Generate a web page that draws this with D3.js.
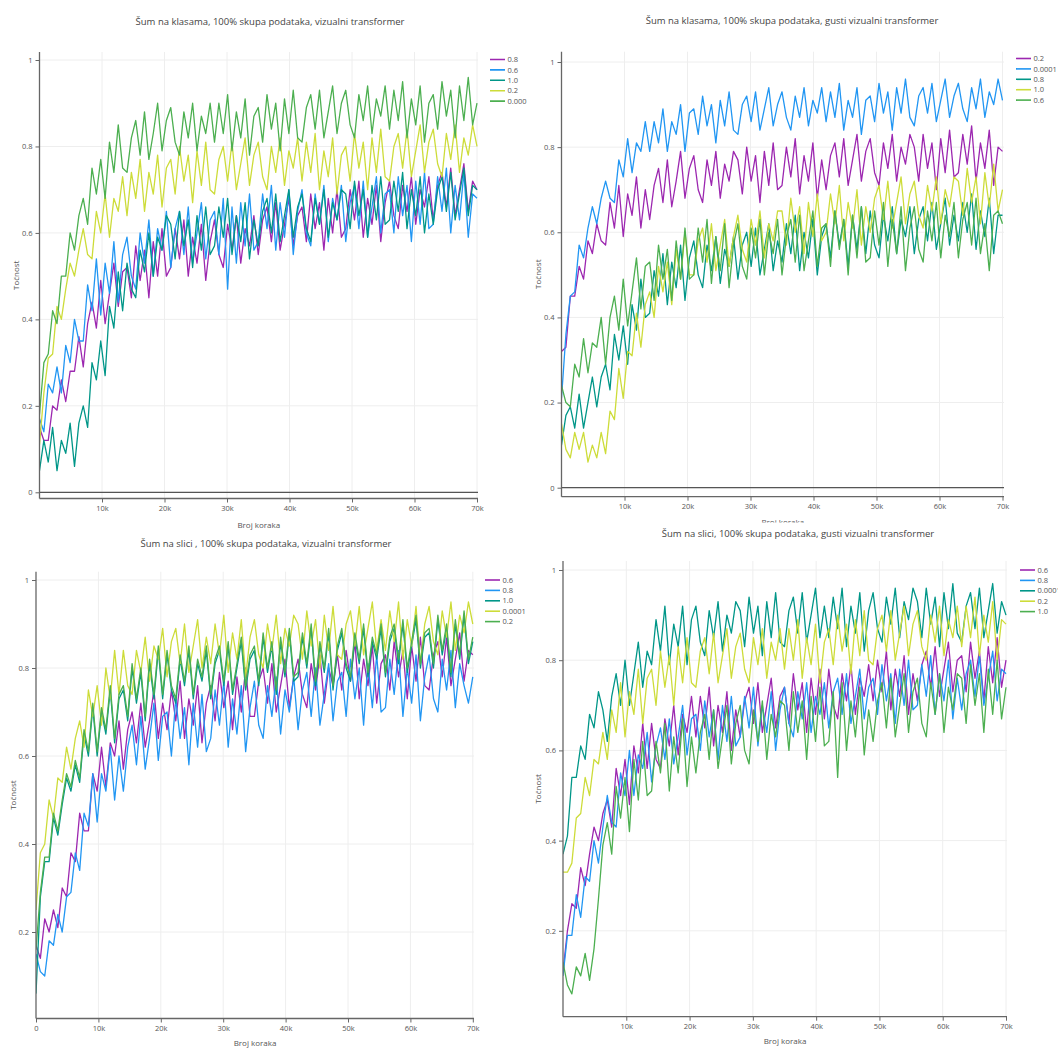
<!DOCTYPE html>
<html><head><meta charset="utf-8">
<script src="https://cdn.jsdelivr.net/npm/d3@7"></script>
<style>body{margin:0;background:#fff}svg text{font-family:"Open Sans",sans-serif}</style>
</head><body><svg id="c" width="1058" height="1048"></svg>
<script>
// ---------------- DATA ----------------
// logged training steps (one point every 700 steps, 0 .. 70k)
const steps = d3.range(0, 70001, 700);
const seriesColors = ["#9C27B0", "#2196F3", "#009688", "#CDDC39", "#4CAF50"];
const xTickValues = [10000, 20000, 30000, 40000, 50000, 60000, 70000];
const yTicksFull = [0, 0.2, 0.4, 0.6, 0.8, 1];
const yTicksNoZero = [0.2, 0.4, 0.6, 0.8, 1];
const xTitle = "Broj koraka";
const yTitle = "Točnost";

// Panel 1: Šum na klasama, vizualni transformer (accuracy in %)
const p1Title = "Šum na klasama, 100% skupa podataka, vizualni transformer";
const p1Labels = ["0.8", "0.6", "1.0", "0.2", "0.0001"];
const p1_noise08 = [15,12,12,20,19,26,21,28,28,36, 29,39,44,38,49,39,46,53,43,51, 52,45,57,49,56,45,58,50,61,50, 52,61,54,63,50,59,53,62,49,58, 63,55,52,62,56,64,53,61,57,64, 55,63,66,58,67,56,62,68,57,64, 66,58,69,61,67,56,68,60,70,59, 61,70,63,72,59,68,62,71,58,67, 72,64,61,71,65,73,62,70,66,73, 63,71,74,66,75,64,70,76,65,72, 70];
const p1_noise06 = [17,14,25,23,29,23,34,30,40,35, 35,48,42,54,41,53,46,58,44,55, 59,50,47,60,53,63,50,61,56,65, 52,61,65,55,66,53,60,67,54,63, 65,55,68,47,66,53,67,57,69,56, 58,69,61,71,56,67,59,70,55,65, 70,60,57,69,62,71,58,68,63,71, 58,67,71,61,72,59,66,73,60,69, 70,60,73,64,71,58,72,62,74,61, 62,73,65,75,60,71,63,74,59,69, 68];
const p1_noise10 = [5,12,7,15,5,12,9,16,6,16, 20,15,30,26,35,27,43,38,51,42, 53,47,45,56,51,60,50,59,56,64, 62,54,65,57,63,52,64,56,66,55, 57,66,59,68,55,64,58,67,54,63, 57,65,68,60,69,58,64,70,59,66, 69,61,58,68,62,70,59,67,63,70, 69,61,72,64,70,59,71,63,73,62, 63,72,65,74,61,70,64,73,60,69, 62,70,73,65,74,63,69,75,64,71, 70];
const p1_noise02 = [11,23,31,32,43,40,47,53,50,56, 61,55,54,65,60,69,59,68,65,73, 64,74,68,77,65,74,69,78,66,75, 77,69,80,72,78,67,79,71,81,70, 69,77,80,72,81,70,76,82,71,78, 81,73,70,80,74,82,71,79,75,82, 72,81,74,83,70,79,73,82,69,78, 80,72,83,75,81,70,82,74,84,73, 72,80,83,75,84,73,79,85,74,81, 84,76,73,83,77,85,74,82,78,85, 80];
const p1_noise00001 = [18,30,32,42,39,50,50,60,56,64, 68,62,75,69,77,68,81,74,85,75, 74,82,86,78,88,77,83,90,79,86, 89,81,78,88,82,90,79,87,83,90, 81,90,83,92,79,88,82,91,78,87, 89,81,92,84,90,79,91,83,93,82, 81,89,92,84,93,82,88,94,83,90, 93,85,82,92,86,94,83,91,87,94, 84,93,86,95,82,91,85,94,81,90, 92,84,95,87,93,82,94,86,96,85, 90];

// Panel 2: Šum na klasama, gusti vizualni transformer
const p2Title = "Šum na klasama, 100% skupa podataka, gusti vizualni transformer";
const p2Labels = ["0.2", "0.0001", "0.8", "1.0", "0.6"];
const p2_noise02 = [32,33,45,45,52,49,58,55,62,58, 57,67,61,71,59,69,64,73,61,70, 63,71,75,67,77,66,72,79,68,75, 78,70,67,77,71,79,68,76,72,79, 77,69,80,72,78,67,79,71,81,70, 71,80,73,82,69,78,72,81,68,77, 70,78,81,73,82,71,77,83,72,79, 82,74,71,81,75,83,72,80,76,83, 80,72,83,75,81,70,82,74,84,73, 74,83,76,85,72,81,75,84,71,80, 79];
const p2_noise00001 = [21,36,45,46,57,54,61,66,62,68, 72,68,67,77,73,82,74,81,79,86, 79,86,81,89,79,86,83,90,79,88, 89,83,92,85,90,81,91,85,93,84, 83,90,92,86,93,84,89,94,85,90, 93,87,84,92,87,94,85,91,88,94, 86,93,87,95,84,91,87,94,83,91, 92,86,95,88,93,84,94,88,96,87, 85,92,94,88,95,86,91,96,87,92, 95,89,86,94,89,96,87,93,90,96, 91];
const p2_noise08 = [10,17,19,14,22,14,20,26,19,26, 29,23,36,30,38,29,43,37,49,40, 41,51,45,55,43,53,47,57,44,54, 58,50,47,57,51,59,48,56,52,59, 49,57,60,52,61,50,56,62,51,58, 53,62,55,64,51,60,54,63,50,59, 62,54,65,57,63,52,64,56,66,55, 65,57,54,64,58,66,55,63,59,66, 55,63,66,58,67,56,62,68,57,64, 58,67,60,69,56,65,59,68,55,64, 64];
const p2_noise10 = [15,9,7,13,9,13,6,10,7,13, 8,18,16,28,21,32,31,41,33,43, 46,40,52,46,53,43,56,49,60,50, 50,58,61,53,62,51,57,63,52,59, 64,56,53,63,57,65,54,62,58,65, 65,57,68,60,66,55,67,59,69,58, 60,69,62,71,58,67,61,70,57,66, 60,68,71,63,72,61,67,73,62,69, 72,64,61,71,65,73,62,70,66,73, 72,64,75,67,73,62,74,66,76,65, 70];
const p2_noise06 = [24,20,19,29,26,35,27,34,33,40, 29,40,45,37,49,38,46,54,42,52, 53,44,57,49,56,44,58,49,61,49, 50,61,53,63,48,59,51,62,47,57, 62,52,49,61,54,63,50,60,55,63, 50,59,63,53,64,51,58,65,52,61, 62,52,65,56,63,50,64,54,66,53, 54,65,57,67,52,63,55,66,51,61, 66,56,53,65,58,67,54,64,59,67, 54,63,67,57,68,55,62,51,64,65, 62];

// Panel 3: Šum na slici, vizualni transformer
const p3Title = "Šum na slici , 100% skupa podataka, vizualni transformer";
const p3Labels = ["0.6", "0.8", "1.0", "0.0001", "0.2"];
const p3_noise06 = [17,14,23,20,25,21,30,28,38,36, 47,43,43,56,52,62,53,63,60,68, 57,66,70,63,72,62,68,75,64,72, 66,75,68,77,64,73,67,76,63,72, 76,68,79,71,77,66,78,70,80,69, 69,77,80,72,81,70,76,82,71,78, 82,74,71,81,75,83,72,80,76,83, 75,84,77,86,73,82,76,85,72,81, 83,75,86,78,84,73,85,77,87,76, 75,83,86,78,87,76,82,88,77,84, 83];
const p3_noise08 = [15,11,10,18,17,24,20,28,29,38, 34,47,44,56,45,56,52,62,50,60, 52,62,67,58,69,57,64,72,59,69, 70,60,73,64,71,58,72,62,74,61, 64,75,67,77,62,73,65,76,61,71, 77,67,64,76,69,78,65,75,70,78, 66,75,79,69,80,67,74,81,68,77, 79,69,82,73,80,67,81,71,83,70, 71,82,74,84,69,80,72,83,68,78, 83,73,70,82,75,84,71,81,76,72, 78];
const p3_noise10 = [6,28,36,36,46,42,49,55,52,58, 54,65,60,71,60,70,65,75,63,73, 75,68,80,72,79,68,81,73,84,73, 83,75,72,82,76,84,73,81,77,84, 73,81,84,76,85,74,80,86,75,82, 84,76,87,79,85,74,86,78,88,77, 78,87,80,89,76,85,79,88,75,84, 88,80,77,87,81,89,78,86,82,89, 78,86,89,81,90,79,85,91,80,87, 88,80,91,83,89,78,90,82,92,81, 86];
const p3_noise00001 = [25,38,40,50,46,55,54,62,57,64, 68,62,75,69,76,67,80,73,84,74, 84,76,74,84,79,87,77,85,82,89, 78,86,89,81,90,79,85,91,80,87, 81,90,83,92,79,88,82,91,78,87, 91,83,80,90,84,92,81,89,85,92, 90,82,93,85,91,80,92,84,94,83, 82,90,93,85,94,83,89,95,84,91, 84,93,86,95,82,91,85,94,81,90, 94,86,83,93,87,95,84,92,88,95, 90];
const p3_noise02 = [16,29,37,37,47,43,50,56,53,59, 55,66,61,72,61,71,66,76,64,74, 76,69,81,73,80,69,82,74,85,74, 84,76,73,83,77,85,74,82,78,85, 74,82,85,77,86,75,81,87,76,83, 85,77,88,80,86,75,87,79,89,78, 79,88,81,90,77,86,80,89,76,85, 89,81,78,88,82,90,79,87,83,90, 79,87,90,82,91,80,86,92,81,88, 89,81,92,84,90,79,91,83,93,82, 87];

// Panel 4: Šum na slici, gusti vizualni transformer
const p4Title = "Šum na slici, 100% skupa podataka, gusti vizualni transformer";
const p4Labels = ["0.6", "0.8", "0.0001", "0.2", "1.0"];
const p4_noise06 = [11,20,26,25,34,30,37,43,40,46, 49,43,56,50,58,48,61,55,66,56, 66,58,56,67,61,70,59,68,64,72, 63,72,65,74,61,70,64,73,60,69, 63,71,74,66,75,64,70,76,65,72, 74,66,77,69,75,64,76,68,78,67, 78,70,67,77,71,79,68,76,72,79, 71,80,73,82,69,78,72,81,68,77, 71,79,82,74,83,72,78,84,73,80, 81,73,84,76,82,71,83,75,85,74, 80];
const p4_noise08 = [10,19,19,28,23,32,31,40,35,43, 50,44,43,55,50,60,50,59,56,64, 53,61,65,58,67,57,63,70,59,67, 68,60,71,63,69,58,70,62,72,61, 63,72,65,74,61,70,64,73,60,69, 74,66,63,73,67,75,64,72,68,75, 65,73,76,68,77,66,72,78,67,74, 76,68,79,71,77,66,78,70,80,69, 70,79,72,81,68,77,71,80,67,76, 69,77,80,72,81,70,76,82,71,78, 77];
const p4_noise00001 = [37,41,54,54,61,58,68,65,73,69, 62,72,77,70,80,70,77,84,74,82, 79,89,82,92,79,88,83,92,79,89, 92,84,81,91,85,93,82,90,86,93, 91,83,94,86,92,81,93,85,95,84, 83,91,94,86,95,84,90,96,85,92, 85,94,87,96,83,92,86,95,82,91, 95,87,84,94,88,96,85,93,89,96, 93,85,96,88,94,83,95,87,97,86, 84,92,95,87,96,85,91,97,86,93, 90];
const p4_noise02 = [33,33,35,45,46,54,50,58,57,64, 58,69,64,75,63,73,68,78,66,76, 78,70,82,74,81,70,83,75,85,75, 74,82,85,77,86,75,81,87,76,83, 86,78,75,85,79,87,76,84,80,87, 78,87,80,89,76,85,79,88,75,84, 87,79,90,82,88,77,89,81,91,80, 79,87,90,82,91,80,86,92,81,88, 91,83,80,90,84,92,81,89,85,92, 83,92,85,94,81,90,84,93,80,89, 88];
const p4_noise10 = [13,8,6,12,10,15,9,16,27,39, 44,37,52,45,54,42,58,49,62,50, 51,62,55,66,51,63,55,67,52,63, 55,64,68,58,69,56,63,70,57,66, 70,60,57,69,62,71,58,68,63,71, 70,60,73,64,71,58,72,62,74,61, 62,73,54,75,60,71,63,74,59,69, 62,71,75,65,76,63,70,77,64,73, 76,66,63,75,68,77,64,74,69,77, 76,66,79,70,77,64,78,68,80,67, 74];

// ---------------- DRAWING ----------------
const svg = d3.select("#c");
svg.append("rect").attr("width", 1058).attr("height", 1048).attr("fill", "#fff");
const defs = svg.append("defs");
const fmtY = d => d === 0 ? "0" : d === 1 ? "1" : d.toFixed(1);

function drawPanel(cfg) {
  const g = svg.append("g");
  if (cfg.cover) {
    g.append("rect").attr("x", cfg.cover[0]).attr("y", cfg.cover[1]).attr("width", cfg.cover[2]).attr("height", cfg.cover[3]).attr("fill", "#fff");
  }
  const x = d3.scaleLinear().domain([0, 70000]).range([cfg.x0, cfg.x70]);
  const y = d3.scaleLinear().domain([0, 1]).range([cfg.y0, cfg.y1]);
  const xTicks = cfg.xZero ? [0].concat(xTickValues) : xTickValues;

  // grid
  g.append("g").selectAll("line").data(xTickValues).join("line")
    .attr("x1", d => x(d)).attr("x2", d => x(d)).attr("y1", cfg.top).attr("y2", cfg.bottom)
    .attr("stroke", "#eeeeee").attr("stroke-width", 1);
  g.append("g").selectAll("line").data(cfg.yTicks).join("line")
    .attr("x1", cfg.x0).attr("x2", cfg.right).attr("y1", d => y(d)).attr("y2", d => y(d))
    .attr("stroke", "#eeeeee").attr("stroke-width", 1);

  // series
  const clipId = "clip" + cfg.id;
  defs.append("clipPath").attr("id", clipId).append("rect")
    .attr("x", cfg.x0).attr("y", cfg.top).attr("width", cfg.right - cfg.x0).attr("height", cfg.bottom - cfg.top);
  const line = d3.line().x((d, i) => x(steps[i])).y(d => y(d / 100));
  const lg = g.append("g").attr("clip-path", `url(#${clipId})`);
  cfg.series.forEach((s, i) => {
    lg.append("path").attr("d", line(s)).attr("fill", "none")
      .attr("stroke", seriesColors[i]).attr("stroke-width", 1.3).attr("stroke-linejoin", "round");
  });

  // zero line
  if (cfg.zero) {
    g.append("line").attr("x1", cfg.x0).attr("x2", cfg.right).attr("y1", y(0)).attr("y2", y(0))
      .attr("stroke", "#555").attr("stroke-width", 1.3);
  }

  // axes
  const xa = g.append("g").attr("transform", `translate(0,${cfg.bottom})`)
    .call(d3.axisBottom(x).tickValues(xTicks).tickFormat(d3.format("~s")).tickSize(4).tickSizeOuter(0).tickPadding(3));
  const ya = g.append("g").attr("transform", `translate(${cfg.x0},0)`)
    .call(d3.axisLeft(y).tickValues(cfg.yTicks).tickFormat(fmtY).tickSize(4).tickSizeOuter(0).tickPadding(3));
  [xa, ya].forEach(a => {
    a.select(".domain").remove();
    a.selectAll(".tick line").attr("stroke", "#666");
    a.selectAll(".tick text").attr("fill", "#555").style("font-size", "7.5px").style("font-family", "Open Sans");
  });
  g.append("line").attr("x1", cfg.x0).attr("x2", cfg.right).attr("y1", cfg.bottom).attr("y2", cfg.bottom)
    .attr("stroke", "#666").attr("stroke-width", 1.3);
  g.append("line").attr("x1", cfg.x0).attr("x2", cfg.x0).attr("y1", cfg.top).attr("y2", cfg.bottom)
    .attr("stroke", "#666").attr("stroke-width", 1.3);

  // titles
  g.append("text").attr("x", cfg.tx).attr("y", cfg.ty).attr("text-anchor", "middle")
    .attr("fill", "#444").style("font-size", "9.5px").text(cfg.title);
  g.append("text").attr("x", (cfg.x0 + cfg.right) / 2).attr("y", cfg.xty).attr("text-anchor", "middle")
    .attr("fill", "#555").style("font-size", "8px").text(xTitle);
  g.append("text").attr("transform", `translate(${cfg.ytx},${(cfg.top + cfg.bottom) / 2}) rotate(-90)`)
    .attr("text-anchor", "middle").attr("fill", "#555").style("font-size", "8px").text(yTitle);

  // legend
  const leg = g.append("g");
  if (cfg.legClip) {
    defs.append("clipPath").attr("id", "leg" + cfg.id).append("rect")
      .attr("x", cfg.lx - 5).attr("y", cfg.ly - 10).attr("width", cfg.legClip - cfg.lx + 5).attr("height", 70);
    leg.attr("clip-path", `url(#leg${cfg.id})`);
  }
  cfg.labels.forEach((lab, i) => {
    const yy = cfg.ly + i * 10.4;
    leg.append("line").attr("x1", cfg.lx).attr("x2", cfg.lx + 15).attr("y1", yy).attr("y2", yy)
      .attr("stroke", seriesColors[i]).attr("stroke-width", 1.6);
    leg.append("text").attr("x", cfg.lx + 17.5).attr("y", yy).attr("dy", "0.35em")
      .attr("fill", "#555").style("font-size", "7.5px").text(lab);
  });
}

const panels = [
  { id: 1, title: p1Title, labels: p1Labels, series: [p1_noise08, p1_noise06, p1_noise10, p1_noise02, p1_noise00001],
    x0: 39.5, x70: 477, right: 478, y0: 492.3, y1: 60, top: 52, bottom: 498.5, yTicks: yTicksFull, zero: true,
    tx: 270, ty: 25, xty: 528, ytx: 19, lx: 490, ly: 59.5, legClip: 527 },
  { id: 2, title: p2Title, labels: p2Labels, series: [p2_noise02, p2_noise00001, p2_noise08, p2_noise10, p2_noise06],
    x0: 561.5, x70: 1002.5, right: 1004, y0: 487.7, y1: 62, top: 51.7, bottom: 496.7, yTicks: yTicksFull, zero: true,
    tx: 792, ty: 23.5, xty: 524.5, ytx: 541, lx: 1016, ly: 58.5 },
  { id: 3, title: p3Title, labels: p3Labels, series: [p3_noise06, p3_noise08, p3_noise10, p3_noise00001, p3_noise02],
    x0: 36, x70: 472.8, right: 474, y0: 1020, y1: 580, top: 571.7, bottom: 1018.5, yTicks: yTicksNoZero, zero: false, xZero: true,
    tx: 266, ty: 547, xty: 1046, ytx: 16, lx: 485, ly: 580 },
  { id: 4, title: p4Title, labels: p4Labels, series: [p4_noise06, p4_noise08, p4_noise00001, p4_noise02, p4_noise10],
    x0: 563, x70: 1006, right: 1007, y0: 1021, y1: 570, top: 561, bottom: 1016.7, yTicks: yTicksNoZero, zero: false,
    tx: 798, ty: 536.5, xty: 1044, ytx: 541, lx: 1020, ly: 570, cover: [530, 522.5, 528, 525.5] }
];
panels.forEach(drawPanel);
</script></body></html>
